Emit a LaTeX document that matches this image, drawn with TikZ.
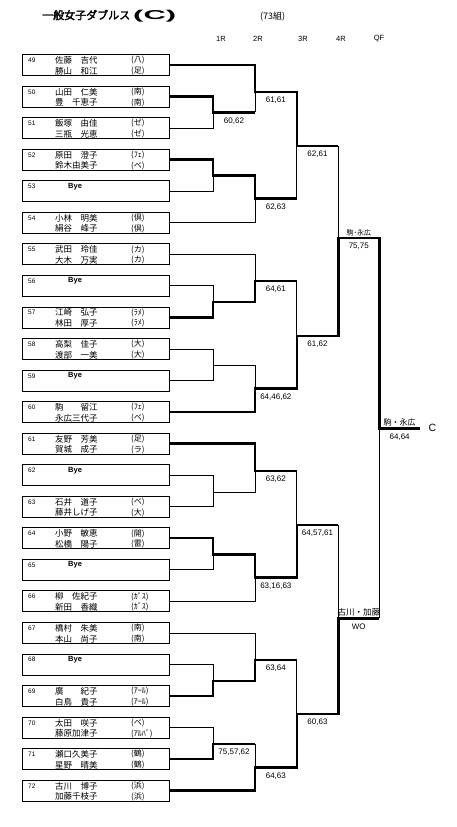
\documentclass[tikz,border=0pt]{standalone}
\usepackage{fontspec}
\usepackage{graphicx}
\setmainfont{Liberation Sans}
\newfontfamily\jp{Noto Sans CJK JP}
\newfontfamily\jpbold[FakeBold=2.5]{Noto Sans CJK JP}
\tikzset{
  entrybox/.style={draw, line width=0.8pt, minimum width=147pt, minimum height=21pt, inner sep=0pt},
  seedno/.style={anchor=west, inner sep=0pt, font=\fontsize{6.5}{7}\selectfont},
  player/.style={anchor=west, inner sep=0pt, font=\jp\fontsize{8.5}{9}\selectfont},
  club/.style={anchor=west, inner sep=0pt, font=\jp\fontsize{8}{9}\selectfont},
  byetext/.style={anchor=west, inner sep=0pt, font=\bfseries\fontsize{7.5}{8}\selectfont},
  roundhdr/.style={inner sep=0pt, font=\fontsize{7.5}{8}\selectfont},
  score/.style={anchor=north, inner sep=0pt, yshift=-5.2pt, font=\fontsize{8}{9}\selectfont},
  pairlabel/.style={anchor=south, inner sep=0pt, yshift=1.8pt, font=\jp\fontsize{7.5}{8}\selectfont},
  loseline/.style={line width=0.8pt},
  winline/.style={line width=2.4pt}
}

\begin{document}
\begin{tikzpicture}[x=1pt, y=-1pt]
  \useasboundingbox (0,0) rectangle (456,827);

  % Title and round headers
  \node[anchor=west, inner sep=0pt, font=\jpbold\fontsize{11}{12}\selectfont] (title) at (42,15) {一般女子ダブルス};
  \node[anchor=west, inner sep=0pt] (titlec) at (133,16) {\resizebox{43pt}{9.3pt}{\bfseries(C)}};
  \node[anchor=west, inner sep=0pt, font=\jp\fontsize{9}{10}\selectfont] (count) at (260,17) {(73組)};
  \node[roundhdr] (r1) at (221,39) {1R};
  \node[roundhdr] (r2) at (258,39) {2R};
  \node[roundhdr] (r3) at (303,39) {3R};
  \node[roundhdr] (r4) at (341,39) {4R};
  \node[roundhdr] (r5) at (379,39) {QF};

  % Entry boxes
  \foreach \n/\pa/\ca/\pb/\cb in {
      49/佐藤　吉代/(八)/勝山　和江/(足),
      50/山田　仁美/(南)/豊　千恵子/(南),
      51/飯塚　由佳/(ゼ)/三瓶　光恵/(ゼ),
      52/原田　澄子/(ﾌｪ)/鈴木由美子/(ベ),
      54/小林　明美/(倶)/絹谷　峰子/(倶),
      55/武田　玲佳/(カ)/大木　万実/(カ),
      57/江崎　弘子/(ﾗﾒ)/林田　厚子/(ﾗﾒ),
      58/高梨　佳子/(大)/渡部　一美/(大),
      60/駒　　留江/(ﾌｪ)/永広三代子/(ベ),
      61/友野　芳美/(足)/賀城　成子/(ラ),
      63/石井　道子/(ベ)/藤井しげ子/(大),
      64/小野　敏恵/(開)/松橋　陽子/(雷),
      66/柳　佐紀子/(ｶﾞｽ)/新田　香織/(ｶﾞｽ),
      67/橋村　朱美/(南)/本山　尚子/(南),
      69/廣　　紀子/(ｱｰﾙ)/白鳥　貴子/(ｱｰﾙ),
      70/太田　咲子/(ベ)/藤原加津子/(ｱﾙﾊﾞ),
      71/瀬口久美子/(鶴)/星野　晴美/(鶴),
      72/古川　博子/(浜)/加藤千枝子/(浜)} {
    \pgfmathsetmacro{\yy}{65+(\n-49)*31.55}
    \node[entrybox] (b\n) at (95.5,\yy) {};
    \node[seedno] (no\n) at (28,\yy-4.7) {\n};
    \node[player] (pa\n) at (55,\yy-4.7) {\pa};
    \node[club] (ca\n) at (131,\yy-4.7) {\ca};
    \node[player] (pb\n) at (55,\yy+6) {\pb};
    \node[club] (cb\n) at (131,\yy+6) {\cb};
  }
  \foreach \n in {53,56,59,62,65,68} {
    \pgfmathsetmacro{\yy}{65+(\n-49)*31.55}
    \node[entrybox] (b\n) at (95.5,\yy) {};
    \node[seedno] (no\n) at (28,\yy-4.7) {\n};
    \node[byetext] (bye\n) at (68,\yy-4.7) {Bye};
  }

  % Match points
  \coordinate (m50) at (213,112.3);
  \coordinate (m52) at (213,175.5);
  \coordinate (m56) at (213,301.7);
  \coordinate (m58) at (213,365.7);
  \coordinate (m62) at (213,492);
  \coordinate (m64) at (213,554.5);
  \coordinate (m68) at (213,680.7);
  \coordinate (m70) at (213,744);
  \coordinate (n1) at (255,91.7);
  \coordinate (n2) at (255,198.3);
  \coordinate (n3) at (255,281);
  \coordinate (n4) at (255,388.3);
  \coordinate (n5) at (255,471);
  \coordinate (n6) at (255,577.3);
  \coordinate (n7) at (255,660);
  \coordinate (n8) at (255,767.3);
  \coordinate (o1) at (296.7,146);
  \coordinate (o2) at (296.7,336);
  \coordinate (o3) at (296.7,525);
  \coordinate (o4) at (296.7,714);
  \coordinate (p1) at (338.3,238);
  \coordinate (p2) at (338.3,618.3);
  \coordinate (q1) at (379.3,428.3);
  \coordinate (champ) at (420,428.3);

  % Losing lines
  \draw[loseline] (b51.east) -| (m50);
  \draw[loseline] (b53.east) -| (m52);
  \draw[loseline] (b54.east) -| (n2);
  \draw[loseline] (b55.east) -| (n3);
  \draw[loseline] (b56.east) -| (m56);
  \draw[loseline] (b58.east) -| (m58) -- (m58 -| n4) -- (n4);
  \draw[loseline] (b59.east) -| (m58);
  \draw[loseline] (b62.east) -| (m62) -- (m62 -| n5) -- (n5);
  \draw[loseline] (b63.east) -| (m62);
  \draw[loseline] (b65.east) -| (m64);
  \draw[loseline] (b66.east) -| (n6);
  \draw[loseline] (b67.east) -| (n7);
  \draw[loseline] (b68.east) -| (m68);
  \draw[loseline] (b70.east) -| (m70);
  \draw[loseline] (m50 -| n1) -- (n1);
  \draw[loseline] (m70 -| n8) -- (n8);
  \draw[loseline] (n2 -| o1) -- (o1);
  \draw[loseline] (n3 -| o2) -- (o2);
  \draw[loseline] (n5 -| o3) -- (o3);
  \draw[loseline] (n7 -| o4) -- (o4);
  \draw[loseline] (o1 -| p1) -- (p1);
  \draw[loseline] (o3 -| p2) -- (p2);
  \draw[loseline] (p2 -| q1) -- (q1);

  % Winning lines
  \draw[winline] (b49.east) -| (n1) -- (n1 -| o1) -- (o1) -- (o1 -| p1);
  \draw[winline] (b50.east) -| (m50) -- (m50 -| n1);
  \draw[winline] (b52.east) -| (m52) -- (m52 -| n2) -- (n2) -- (n2 -| o1);
  \draw[winline] (b57.east) -| (m56) -- (m56 -| n3) -- (n3) -- (n3 -| o2);
  \draw[winline] (b60.east) -| (n4) -- (n4 -| o2) -- (o2) -- (o2 -| p1) -- (p1) -- (p1 -| q1) -- (q1) -- (champ);
  \draw[winline] (b61.east) -| (n5) -- (n5 -| o3);
  \draw[winline] (b64.east) -| (m64) -- (m64 -| n6) -- (n6) -- (n6 -| o3) -- (o3) -- (o3 -| p2);
  \draw[winline] (b69.east) -| (m68) -- (m68 -| n7) -- (n7) -- (n7 -| o4);
  \draw[winline] (b71.east) -| (m70) -- (m70 -| n8);
  \draw[winline] (b72.east) -| (n8) -- (n8 -| o4) -- (o4) -- (o4 -| p2) -- (p2) -- (p2 -| q1);

  % Scores
  \path (m50) -- (m50 -| n1) node[midway, score] (sc50) {60,62};
  \path (m70) -- (m70 -| n8) node[midway, score] (sc70) {75,57,62};
  \path (n1) -- (n1 -| o1) node[midway, score] (scn1) {61,61};
  \path (n2) -- (n2 -| o1) node[midway, score] (scn2) {62,63};
  \path (n3) -- (n3 -| o2) node[midway, score] (scn3) {64,61};
  \path (n4) -- (n4 -| o2) node[midway, score] (scn4) {64,46,62};
  \path (n5) -- (n5 -| o3) node[midway, score] (scn5) {63,62};
  \path (n6) -- (n6 -| o3) node[midway, score] (scn6) {63,16,63};
  \path (n7) -- (n7 -| o4) node[midway, score] (scn7) {63,64};
  \path (n8) -- (n8 -| o4) node[midway, score] (scn8) {64,63};
  \path (o1) -- (o1 -| p1) node[midway, score] (sco1) {62,61};
  \path (o2) -- (o2 -| p1) node[midway, score] (sco2) {61,62};
  \path (o3) -- (o3 -| p2) node[midway, score] (sco3) {64,57,61};
  \path (o4) -- (o4 -| p2) node[midway, score] (sco4) {60,63};
  \path (p1) -- (p1 -| q1) node[midway, score] (scp1) {75,75}
    node[midway, pairlabel, font=\jp\fontsize{7}{8}\selectfont] (wp1) {駒･永広};
  \path (p2) -- (p2 -| q1) node[midway, score] (scp2) {WO}
    node[midway, pairlabel, font=\jp\fontsize{8.5}{9}\selectfont] (wp2) {古川・加藤};
  \path (q1) -- (champ) node[midway, score] (scq1) {64,64}
    node[midway, pairlabel, font=\jp\fontsize{8}{9}\selectfont] (wq1) {駒・永広};
  \node[inner sep=0pt, font=\fontsize{10.5}{11}\selectfont] (grp) at (432.5,428.3) {C};
\end{tikzpicture}
\end{document}
